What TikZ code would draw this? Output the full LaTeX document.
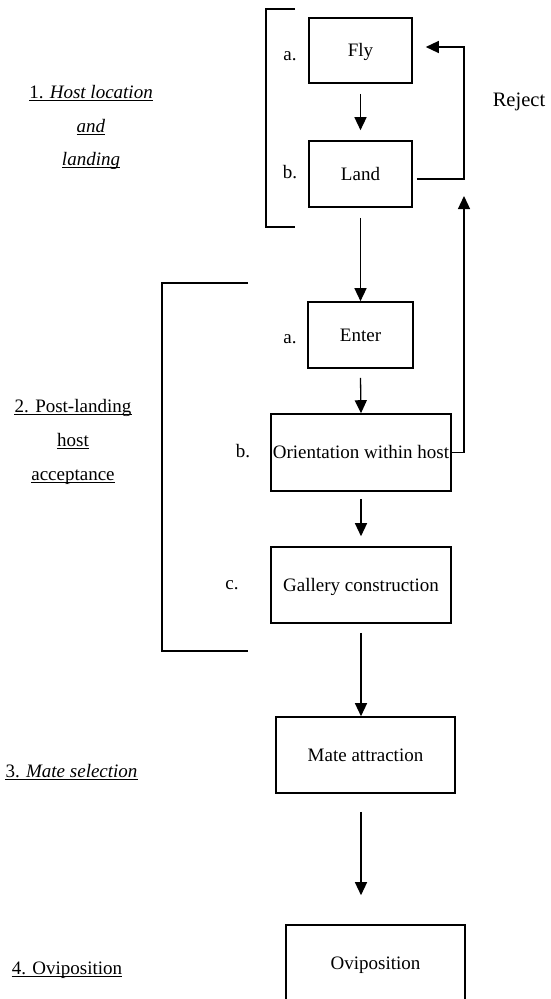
\documentclass[tikz,border=0pt]{standalone}
\usepackage{fontspec}
\setmainfont{Liberation Serif}
\usetikzlibrary{arrows.meta,calc}
\begin{document}
\begin{tikzpicture}[x=1pt,y=-1pt,
  txt/.style={font=\fontsize{19}{23}\selectfont, inner sep=0pt},
  box/.style={txt, draw, line width=1.6pt, text height=12.3pt, text depth=0pt},
  lab/.style={txt, anchor=base},
  arr/.style={line width=1.3pt, -{Triangle[length=13pt,width=12pt]}},
  brk/.style={line width=1.5pt},
  ul/.style={line width=1pt}]
\useasboundingbox (0,0) rectangle (550,999);
\clip (0,0) rectangle (550,999);

% process boxes
\node[box, minimum width=103pt, minimum height=65pt] (fly)     at (360.5,50.5) {Fly};
\node[box, minimum width=103pt, minimum height=66pt] (land)    at (360.5,174)  {Land};
\node[box, minimum width=105pt, minimum height=66pt] (enter)   at (360.5,335)  {Enter};
\node[box, minimum width=180pt, minimum height=77pt] (orient)  at (361,452.5)  {Orientation within host};
\node[box, minimum width=180pt, minimum height=76pt] (gallery) at (361,585)    {Gallery construction};
\node[box, minimum width=179pt, minimum height=76pt] (mate)    at (365.5,755)  {Mate attraction};
\node[box, minimum width=179pt, minimum height=76pt] (ovi)     at (375.5,963)  {Oviposition};

% sub-step letters
\node[lab] (fa) at (290,60)  {a.};
\node[lab] (lb) at (290,178) {b.};
\node[lab] (ea) at (290,343) {a.};
\node[lab] (ob) at (243,457) {b.};
\node[lab] (gc) at (232,589) {c.};

% phase titles
\node[lab] (h1) at (91,98)   {1. \textit{Host location}};
\node[lab] (h2) at (91,132)  {\textit{and}};
\node[lab] (h3) at (91,165)  {\textit{landing}};
\node[lab] (p1) at (73,412)  {2. Post-landing};
\node[lab] (p2) at (73,446)  {host};
\node[lab] (p3) at (73,480)  {acceptance};
\node[lab] (m1) at (71.5,777) {3. \textit{Mate selection}};
\node[lab] (o1) at (67,974)  {4. Oviposition};
\node[lab, font=\fontsize{20.5}{24}\selectfont] (rej) at (519,106) {Reject};

\foreach \n in {h1,h2,h3,p1,p2,p3,m1,o1}
  \draw[ul] ([yshift=-2pt]\n.base west) -- ([yshift=-2pt]\n.base east);

% phase brackets
\draw[brk] (295,9) -- (266,9) -- (266,227) -- (295,227);
\draw[brk] (248,283) -- (162,283) -- (162,651) -- (248,651);

% main sequence
\draw[arr] ($(fly.south)+(0,10)$) -- ($(land.north)+(0,-10)$);
\draw[arr] ($(land.south)+(0,10)$) -- (enter.north);
\draw[arr] ($(enter.south)+(0,9)$) -- (orient.north);
\draw[arr] ($(orient.south)+(0,7)$) -- ($(gallery.north)+(0,-10)$);
\draw[arr] ($(gallery.south)+(0,9)$) -- (gallery.south |- mate.north);
\draw[arr] ($(gallery.south |- mate.south)+(0,18)$) -- ($(gallery.south |- ovi.north)+(0,-29)$);

% reject loops
\coordinate (rjtop) at (464,47);
\coordinate (rjtip) at (464,196);
\draw[arr] ($(land.east)+(4,5)$) -| (rjtop) -- ($(fly.east)+(13,-3.5)$);
\draw[arr] (orient.east) -| (rjtip);
\end{tikzpicture}
\end{document}
